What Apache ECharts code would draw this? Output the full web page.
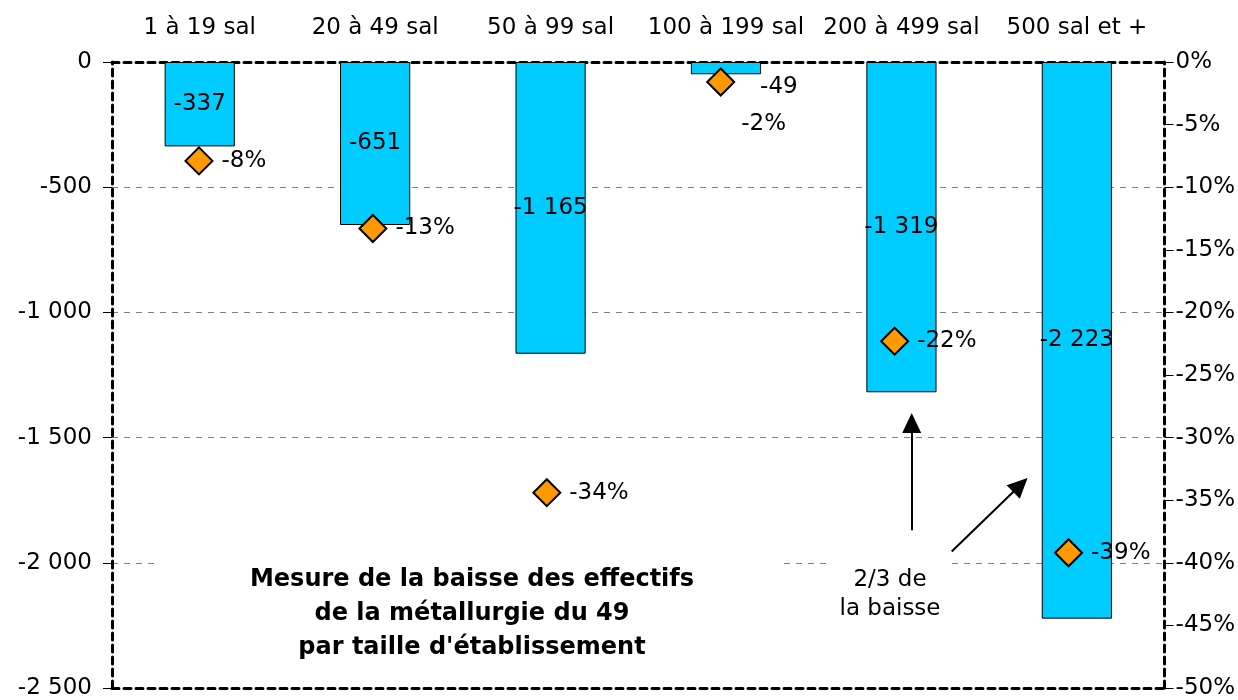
<!DOCTYPE html>
<html>
<head>
<meta charset="utf-8">
<style>
  html, body { margin: 0; padding: 0; background: #fff; }
  #chart { width: 1238px; height: 700px; }
</style>
<script src="https://cdn.jsdelivr.net/npm/echarts@6/dist/echarts.min.js"></script>
</head>
<body>
<div id="chart"></div>
<script>
const categories = ['1 à 19 sal', '20 à 49 sal', '50 à 99 sal', '100 à 199 sal', '200 à 499 sal', '500 sal et +']
const baisse = [-337, -651, -1165, -49, -1319, -2223]
const baissePct = [-7.9, -13.3, -34.4, -1.6, -22.3, -39.2]

const FONT = 'DejaVu Sans'
const FS = 23
const withSpaces = (v) => String(v).replace(/\B(?=(\d{3})+(?!\d))/g, ' ')

const chart = echarts.init(document.getElementById('chart'))

const dashedBlack = { color: '#000', width: 3, type: [7, 5] }

const option = {
  animation: false,
  textStyle: { fontFamily: FONT },
  grid: { left: 112, right: 73, top: 62, bottom: 12 },
  xAxis: [
    {
      type: 'category',
      position: 'top',
      data: categories,
      axisLine: { lineStyle: dashedBlack },
      axisTick: { inside: true, length: 6, lineStyle: { color: '#555' } },
      axisLabel: { interval: 0, margin: 22, color: '#000', fontSize: FS, fontFamily: FONT },
    },
    {
      // hidden index axis for the diamonds, doubles as the bottom border
      type: 'value',
      position: 'bottom',
      min: -0.5,
      max: 5.552,
      axisLine: { show: true, onZero: false, lineStyle: dashedBlack },
      axisTick: { show: false },
      axisLabel: { show: false },
      splitLine: { show: false },
    },
  ],
  yAxis: [
    {
      type: 'value',
      min: -2500,
      max: 0,
      interval: 500,
      axisLine: { show: true, onZero: false, lineStyle: dashedBlack },
      axisTick: { show: true, length: 9, lineStyle: { color: '#000' } },
      axisLabel: { margin: 20, color: '#000', fontSize: FS, fontFamily: FONT, formatter: withSpaces },
      splitLine: { lineStyle: { color: '#808080', type: [6, 6] } },
    },
    {
      type: 'value',
      position: 'right',
      min: -50,
      max: 0,
      interval: 5,
      axisLine: { show: true, onZero: false, lineStyle: dashedBlack },
      axisTick: { show: true, length: 9, lineStyle: { color: '#000' } },
      axisLabel: { margin: 11, color: '#000', fontSize: FS, fontFamily: FONT, formatter: (v) => v + '%' },
      splitLine: { show: false },
    },
  ],
  series: [
    {
      name: 'Baisse',
      type: 'bar',
      xAxisIndex: 0,
      yAxisIndex: 0,
      barWidth: '40%',
      data: baisse.map((v) =>
        Math.abs(v) < 100
          ? { value: v, label: { position: 'right', offset: [-6, 19] } }
          : v
      ),
      itemStyle: { color: '#00CCFF', borderColor: '#000', borderWidth: 1 },
      label: {
        show: true,
        position: 'inside',
        color: '#000',
        fontSize: FS,
        fontFamily: FONT,
        formatter: (p) => withSpaces(p.value),
      },
      emphasis: { disabled: true },
      z: 2,
    },
    {
      name: 'Baisse %',
      type: 'scatter',
      xAxisIndex: 1,
      yAxisIndex: 1,
      symbol: 'diamond',
      symbolSize: [27, 27],
      data: baissePct.map((v, i) =>
        Math.abs(v) < 2
          ? { value: [i, v], label: { offset: [-2, 42] } }
          : [i, v]
      ),
      itemStyle: { color: '#FF9900', borderColor: '#000', borderWidth: 2, opacity: 1 },
      label: {
        show: true,
        position: 'right',
        distance: 8,
        color: '#000',
        fontSize: FS,
        fontFamily: FONT,
        formatter: (p) => Math.round(p.value[1]) + '%',
      },
      emphasis: { disabled: true },
      markLine: {
        silent: true,
        symbol: ['none', 'triangle'],
        symbolSize: [19, 20],
        lineStyle: { color: '#000', width: 2, type: 'solid', opacity: 1 },
        itemStyle: { color: '#000' },
        label: { show: false },
        data: [
          [{ coord: [4.098, -37.4] }, { coord: [4.098, -28.83] }],
          [{ coord: [4.328, -39.1] }, { coord: [4.723, -33.79] }],
        ],
      },
      z: 5,
    },
  ],
  graphic: [
    {
      type: 'rect',
      z: 10,
      shape: { x: 160, y: 553, width: 620, height: 120 },
      style: { fill: '#fff' },
    },
    {
      type: 'text',
      z: 11,
      style: {
        x: 472,
        y: 563,
        text: 'Mesure de la baisse des effectifs\nde la métallurgie du 49\npar taille d\'établissement',
        textAlign: 'center',
        font: 'bold 24px "DejaVu Sans"',
        lineHeight: 34,
        fill: '#000',
      },
    },
    {
      type: 'rect',
      z: 10,
      shape: { x: 830, y: 558, width: 122, height: 70 },
      style: { fill: '#fff' },
    },
    {
      type: 'text',
      z: 11,
      style: {
        x: 890,
        y: 566,
        text: '2/3 de\nla baisse',
        textAlign: 'center',
        font: '23px "DejaVu Sans"',
        lineHeight: 29,
        fill: '#000',
      },
    },
  ],
}

chart.setOption(option)

window.addEventListener('resize', () => {
  chart.resize()
})
</script>
</body>
</html>
